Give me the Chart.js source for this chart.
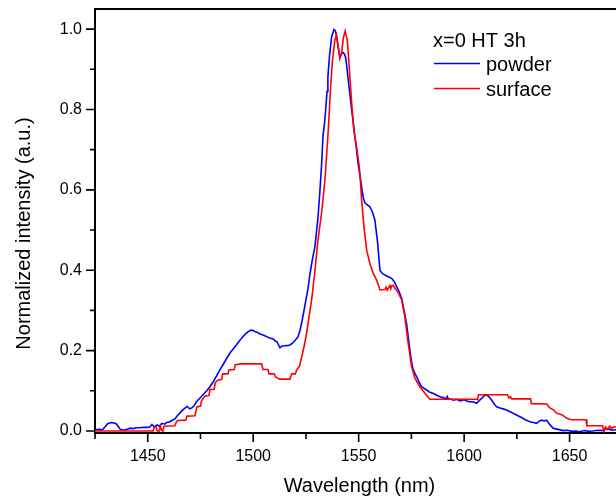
<!DOCTYPE html>
<html><head><meta charset="utf-8">
<script src="https://cdn.jsdelivr.net/npm/chart.js@4"></script>
<style>html,body{margin:0;padding:0;background:#fff;overflow:hidden}canvas{display:block}</style>
</head><body><canvas id="c" width="616" height="500"></canvas>
<script>
const powderWavelength = [1425.0,1427.0,1428.5,1429.7,1431.0,1432.6,1434.0,1435.0,1436.2,1437.0,1438.7,1440.0,1441.6,1443.0,1444.5,1446.3,1448.0,1449.6,1451.0,1452.0,1453.0,1454.4,1455.5,1456.8,1458.0,1459.0,1460.5,1462.0,1462.9,1464.0,1465.3,1466.5,1468.6,1470.0,1471.0,1471.9,1473.0,1474.8,1476.5,1478.0,1479.5,1481.0,1482.5,1484.2,1485.8,1487.5,1489.0,1490.5,1492.0,1493.7,1495.0,1496.6,1497.8,1498.9,1500.0,1501.0,1501.8,1503.0,1504.6,1506.0,1507.5,1509.4,1510.5,1511.3,1512.0,1512.7,1513.5,1515.0,1516.5,1517.4,1518.5,1519.3,1520.3,1521.2,1522.2,1523.1,1524.1,1525.0,1526.0,1526.9,1528.0,1529.3,1530.2,1530.7,1531.6,1532.4,1533.1,1533.8,1534.3,1535.0,1535.4,1536.2,1537.2,1538.3,1539.0,1539.6,1540.3,1541.1,1541.8,1542.5,1543.2,1543.8,1544.4,1544.9,1545.8,1546.7,1547.5,1548.2,1549.0,1549.6,1550.5,1551.4,1552.2,1553.0,1554.0,1555.3,1556.5,1557.7,1558.5,1559.0,1559.6,1560.1,1561.0,1562.4,1564.0,1565.6,1566.8,1568.0,1569.2,1570.4,1571.5,1572.7,1573.5,1574.3,1575.0,1575.7,1576.6,1577.5,1578.6,1579.8,1581.0,1582.2,1583.5,1585.2,1587.0,1588.5,1590.0,1591.5,1592.0,1592.6,1593.2,1595.0,1596.5,1598.0,1600.0,1601.5,1602.7,1604.5,1605.9,1607.0,1608.3,1609.5,1610.6,1611.8,1613.0,1614.2,1615.4,1617.0,1618.5,1620.1,1622.5,1624.8,1627.0,1629.0,1631.2,1632.8,1634.3,1635.5,1636.7,1638.0,1639.1,1640.5,1642.2,1644.5,1646.9,1649.0,1651.0,1653.0,1654.9,1657.0,1659.0,1661.0,1663.5,1665.9,1667.5,1669.0,1670.5,1672.0];
const powderIntensity = [0.003,0.004,0.003,0.010,0.018,0.021,0.020,0.018,0.010,0.004,0.002,0.004,0.007,0.006,0.008,0.008,0.009,0.009,0.010,0.016,0.010,0.015,0.012,0.019,0.017,0.021,0.023,0.028,0.030,0.038,0.045,0.052,0.061,0.055,0.058,0.062,0.072,0.082,0.092,0.100,0.110,0.122,0.136,0.152,0.166,0.181,0.194,0.204,0.214,0.226,0.234,0.243,0.248,0.251,0.250,0.247,0.246,0.242,0.239,0.236,0.232,0.229,0.224,0.222,0.214,0.207,0.211,0.212,0.213,0.214,0.218,0.222,0.228,0.234,0.250,0.272,0.300,0.326,0.355,0.390,0.425,0.460,0.505,0.530,0.595,0.660,0.735,0.765,0.795,0.845,0.880,0.935,0.981,0.999,0.995,0.980,0.955,0.930,0.938,0.942,0.938,0.930,0.905,0.881,0.840,0.798,0.765,0.732,0.700,0.670,0.640,0.608,0.580,0.567,0.563,0.558,0.545,0.525,0.490,0.468,0.430,0.400,0.393,0.388,0.384,0.380,0.372,0.359,0.346,0.330,0.300,0.268,0.235,0.200,0.175,0.155,0.144,0.135,0.122,0.110,0.106,0.102,0.097,0.094,0.089,0.085,0.083,0.080,0.086,0.079,0.080,0.077,0.079,0.075,0.078,0.074,0.073,0.072,0.069,0.075,0.081,0.088,0.090,0.085,0.077,0.068,0.060,0.057,0.055,0.052,0.046,0.040,0.034,0.028,0.023,0.021,0.019,0.024,0.027,0.025,0.027,0.017,0.007,0.004,0.001,0.002,-0.001,0.000,-0.002,0.001,-0.001,0.000,0.002,0.001,0.006,0.004,0.002,0.003];
const surfaceWavelength = [1425.0,1452.5,1453.2,1454.0,1454.5,1455.5,1456.0,1456.5,1457.2,1457.7,1462.9,1463.5,1464.3,1468.0,1468.6,1472.4,1473.3,1475.0,1475.5,1477.1,1479.0,1479.5,1481.5,1482.0,1483.3,1485.0,1485.5,1488.0,1488.5,1491.0,1491.5,1494.5,1504.0,1504.6,1507.0,1507.5,1510.0,1510.5,1512.5,1517.4,1518.2,1520.0,1520.6,1522.0,1523.0,1524.2,1525.3,1526.5,1527.7,1529.3,1530.7,1532.4,1534.0,1535.6,1536.7,1537.6,1538.7,1539.5,1540.3,1541.1,1541.9,1542.7,1543.6,1544.6,1545.5,1546.7,1547.7,1549.0,1550.3,1550.8,1551.4,1552.5,1553.8,1555.3,1556.9,1558.5,1560.1,1562.4,1563.0,1563.5,1564.0,1564.8,1565.2,1565.6,1566.4,1567.2,1568.7,1570.4,1571.9,1573.5,1575.1,1576.7,1579.0,1581.4,1583.8,1606.4,1606.8,1620.6,1621.3,1622.0,1622.6,1631.5,1631.9,1639.2,1640.5,1642.5,1643.6,1646.5,1648.5,1650.7,1657.8,1658.2,1665.7,1666.3,1667.0,1668.0,1669.0,1670.0,1671.0,1672.0];
const surfaceIntensity = [0.0,0.0,0.010,0.010,0.0,0.0,0.012,0.002,0.0,0.012,0.013,0.022,0.026,0.027,0.037,0.038,0.060,0.062,0.075,0.087,0.088,0.103,0.104,0.120,0.127,0.128,0.142,0.142,0.152,0.153,0.165,0.167,0.167,0.153,0.153,0.142,0.142,0.135,0.129,0.129,0.142,0.142,0.152,0.162,0.185,0.212,0.243,0.285,0.326,0.400,0.475,0.542,0.624,0.749,0.856,0.923,0.973,0.985,0.956,0.927,0.940,0.977,0.995,0.973,0.906,0.815,0.749,0.707,0.657,0.624,0.575,0.508,0.450,0.417,0.392,0.376,0.351,0.352,0.358,0.350,0.355,0.362,0.354,0.361,0.362,0.355,0.345,0.326,0.284,0.218,0.160,0.131,0.110,0.094,0.079,0.079,0.090,0.090,0.082,0.085,0.080,0.080,0.068,0.067,0.058,0.052,0.045,0.040,0.032,0.028,0.028,0.013,0.013,-0.002,0.010,0.004,0.012,0.006,0.011,0.009];
const xMajorTicks = [1450, 1500, 1550, 1600, 1650];
const xMinorTicks = [1425, 1475, 1525, 1575, 1625];
const yMajorTicks = [0.0, 0.2, 0.4, 0.6, 0.8, 1.0];
const yMinorTicks = [0.1, 0.3, 0.5, 0.7, 0.9];
const seriesNames = ['powder', 'surface'];
const legendTitle = 'x=0 HT 3h';
const xTitle = 'Wavelength (nm)';
const yTitle = 'Normalized intensity (a.u.)';

const toPoints = (xs, ys) => xs.map((x, i) => ({x: x, y: ys[i]}));
const FONT = '"Liberation Sans", Arial, sans-serif';

const decor = {
  id: 'decor',
  afterDraw(chart) {
    const ctx = chart.ctx, xs = chart.scales.x, ys = chart.scales.y, a = chart.chartArea;
    ctx.save();
    ctx.strokeStyle = '#000';
    ctx.lineWidth = 1.6;
    ctx.beginPath();
    xMajorTicks.forEach(v => { const p = xs.getPixelForValue(v); ctx.moveTo(p, a.bottom); ctx.lineTo(p, a.bottom + 9); });
    xMinorTicks.forEach(v => { const p = xs.getPixelForValue(v); ctx.moveTo(p, a.bottom); ctx.lineTo(p, a.bottom + 6); });
    yMajorTicks.forEach(v => { const p = ys.getPixelForValue(v); ctx.moveTo(a.left, p); ctx.lineTo(a.left - 9, p); });
    yMinorTicks.forEach(v => { const p = ys.getPixelForValue(v); ctx.moveTo(a.left, p); ctx.lineTo(a.left - 5, p); });
    ctx.stroke();
    ctx.lineWidth = 2;
    ctx.beginPath(); ctx.moveTo(a.left - 1, a.top); ctx.lineTo(a.right, a.top); ctx.stroke();
    ctx.fillStyle = '#000';
    ctx.font = '20px ' + FONT;
    ctx.textAlign = 'left'; ctx.textBaseline = 'alphabetic';
    ctx.fillText(legendTitle, 433, 47);
    const ds = chart.data.datasets;
    [63.5, 88.5].forEach((ly, i) => {
      ctx.strokeStyle = ds[i].borderColor; ctx.lineWidth = 1.6;
      ctx.beginPath(); ctx.moveTo(434, ly); ctx.lineTo(480, ly); ctx.stroke();
      ctx.fillText(ds[i].label, 486, ly + 7);
    });
    ctx.textAlign = 'center';
    ctx.fillText(xTitle, 359.5, 492);
    ctx.translate(29.5, 233.5);
    ctx.rotate(-Math.PI / 2);
    ctx.fillText(yTitle, 0, 0);
    ctx.restore();
  }
};

new Chart(document.getElementById('c'), {
  type: 'line',
  data: {
    datasets: [
      {label: seriesNames[0], data: toPoints(powderWavelength, powderIntensity), borderColor: '#0000ff', borderWidth: 1.6, pointRadius: 0, fill: false, tension: 0, order: 1},
      {label: seriesNames[1], data: toPoints(surfaceWavelength, surfaceIntensity), borderColor: '#ff0000', borderWidth: 1.6, pointRadius: 0, fill: false, tension: 0, order: 0}
    ]
  },
  options: {
    responsive: false, animation: false, devicePixelRatio: 1,
    layout: {padding: {top: 9, left: 0, right: 0, bottom: 0}},
    plugins: {legend: {display: false}, tooltip: {enabled: false}},
    scales: {
      x: {
        type: 'linear', min: 1425, max: 1672,
        afterBuildTicks: s => { s.ticks = xMajorTicks.map(v => ({value: v})); },
        afterFit: s => { s.height = 67; s.paddingLeft = 0; s.paddingRight = 0; },
        grid: {display: true, drawOnChartArea: false, drawTicks: false},
        border: {display: true, color: '#000', width: 2},
        ticks: {padding: 14, color: '#000', font: {family: FONT, size: 16}, maxRotation: 0, callback: v => String(v)}
      },
      y: {
        type: 'linear', min: -0.005, max: 1.05,
        afterBuildTicks: s => { s.ticks = yMajorTicks.map(v => ({value: v})); },
        afterFit: s => { s.width = 95; s.paddingTop = 0; s.paddingBottom = 0; },
        grid: {display: true, drawOnChartArea: false, drawTicks: false},
        border: {display: true, color: '#000', width: 2},
        ticks: {padding: 13, color: '#000', font: {family: FONT, size: 16}, callback: v => Number(v).toFixed(1)}
      }
    }
  },
  plugins: [decor]
});
</script></body></html>
